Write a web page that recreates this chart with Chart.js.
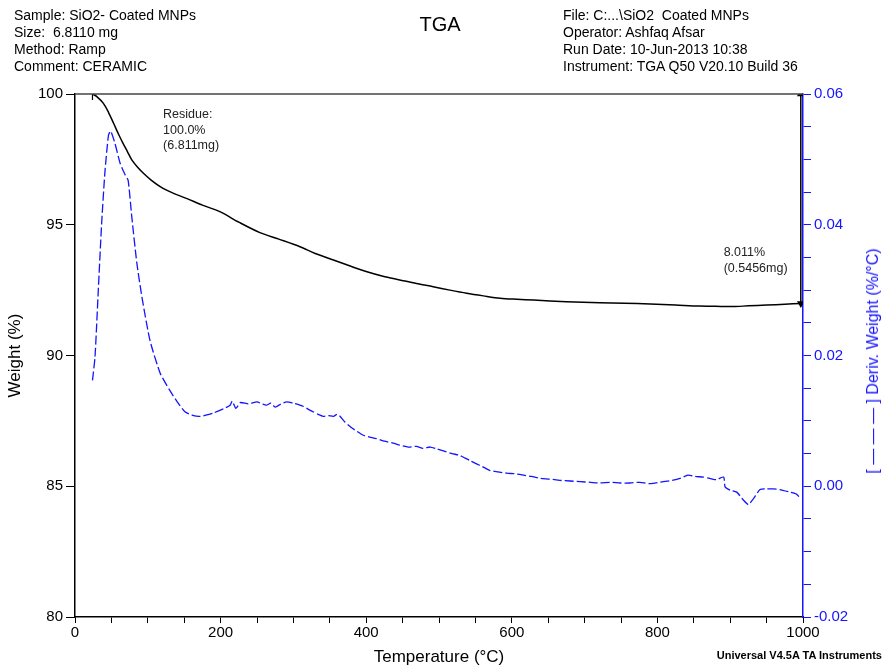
<!DOCTYPE html>
<html>
<head>
<meta charset="utf-8">
<script src="https://cdn.jsdelivr.net/npm/chart.js@4/dist/chart.umd.min.js"></script>
<style>
body { margin: 0; background: #fff; font-family: "Liberation Sans", Arial, sans-serif; }
#wrap { position: relative; width: 886px; height: 668px; }
.hdr { position: absolute; font-size: 14px; line-height: 17px; color: #000; white-space: pre; }
#title { position: absolute; left: 440px; top: 13px; transform: translateX(-50%); font-size: 20px; }
#footer { position: absolute; right: 4px; top: 649px; font-size: 11px; font-weight: bold; }
#rtitle { position: absolute; left: 873px; top: 361px; transform: translate(-50%, -50%) rotate(-90deg);
  font-size: 16px; color: rgb(20,20,255); white-space: pre; }
</style>
</head>
<body>
<div id="wrap">
  <canvas id="tga" width="886" height="668"></canvas>
  <div class="hdr" style="left:14px;top:7px">Sample: SiO2- Coated MNPs
Size:  6.8110 mg
Method: Ramp
Comment: CERAMIC</div>
  <div id="title">TGA</div>
  <div class="hdr" style="left:563px;top:7px">File: C:...\SiO2  Coated MNPs
Operator: Ashfaq Afsar
Run Date: 10-Jun-2013 10:38
Instrument: TGA Q50 V20.10 Build 36</div>
  <div id="rtitle">[ — — — ] Deriv. Weight (%/°C)</div>
  <div id="footer">Universal V4.5A TA Instruments</div>
</div>
<script>
// weight curve (%)
var weightTemps = [24, 30, 39, 46, 53, 60, 66, 72, 78, 86, 94, 105, 121, 137, 153, 175, 199, 225, 254, 280, 309, 330, 355, 378, 401, 423, 446, 469, 492, 515, 538, 561, 584, 607, 630, 675, 721, 755, 790, 825, 858, 880, 904, 925, 950, 975, 997];
var weightValues = [100.0, 99.9, 99.64, 99.3, 98.88, 98.45, 98.11, 97.8, 97.48, 97.2, 96.97, 96.7, 96.39, 96.18, 96.01, 95.75, 95.5, 95.1, 94.7, 94.45, 94.16, 93.9, 93.65, 93.42, 93.2, 93.03, 92.89, 92.75, 92.63, 92.5, 92.38, 92.28, 92.19, 92.15, 92.12, 92.06, 92.02, 92.0, 91.97, 91.93, 91.89, 91.88, 91.87, 91.9, 91.93, 91.96, 91.99];

// derivative weight (%/°C)
var derivTemps = [24, 27.5, 32, 36.6, 41, 46, 49, 55, 62, 69, 73, 78, 85, 92, 103, 117, 130, 140, 151, 163, 172, 181, 190, 199, 207, 213, 216, 221, 227, 238, 250, 257, 263, 269, 275, 283, 291, 300, 307, 314, 320, 327, 334, 341, 348, 355, 360, 364, 371, 382, 396, 414, 425, 437, 446, 458, 469, 478, 488, 497, 506, 518, 529, 536, 543, 550, 556, 563, 570, 581, 593, 605, 616, 627, 639, 652, 666, 680, 694, 708, 721, 735, 749, 762, 776, 790, 808, 820, 831, 842, 852, 863, 872, 881, 891, 893, 900, 909, 918, 925, 932, 941, 950, 959, 968, 982, 991, 997];
var derivValues = [0.0162, 0.0198, 0.0300, 0.0402, 0.0479, 0.0537, 0.0543, 0.0524, 0.0494, 0.0476, 0.0468, 0.0412, 0.0341, 0.0289, 0.0223, 0.0173, 0.0147, 0.0130, 0.0114, 0.0108, 0.0107, 0.0109, 0.0112, 0.0116, 0.0120, 0.0124, 0.0130, 0.0119, 0.0128, 0.0126, 0.0129, 0.0126, 0.0124, 0.0127, 0.0121, 0.0126, 0.0129, 0.0127, 0.0125, 0.0122, 0.0118, 0.0114, 0.0110, 0.0107, 0.0108, 0.0107, 0.0110, 0.0107, 0.0098, 0.0088, 0.0078, 0.0073, 0.0069, 0.0066, 0.0063, 0.0060, 0.0061, 0.0058, 0.0060, 0.0057, 0.0054, 0.0050, 0.0047, 0.0043, 0.0039, 0.0035, 0.0032, 0.0028, 0.0024, 0.0022, 0.0020, 0.0019, 0.0017, 0.0015, 0.0012, 0.0011, 0.0009, 0.0008, 0.0007, 0.0006, 0.0005, 0.0006, 0.0005, 0.0005, 0.0006, 0.0004, 0.0007, 0.0009, 0.0012, 0.0017, 0.0015, 0.0014, 0.0012, 0.0010, 0.0014, -0.0001, -0.0006, -0.0009, -0.0021, -0.0028, -0.0019, -0.0005, -0.0004, -0.0004, -0.0005, -0.0009, -0.0012, -0.0019];

// residue step marker
var stepTemp = 997;
var stepFrom = 100;
var stepTo = 91.99;

var notes = [
  { t: 121, w: 99.2, lines: ["Residue:", "100.0%", "(6.811mg)"] },
  { t: 891, w: 93.92, lines: ["8.011%", "(0.5456mg)"] }
];

var blue = "rgb(20,20,255)";

function pts(xs, ys) {
  var out = [];
  for (var i = 0; i < xs.length; i++) out.push({ x: xs[i], y: ys[i] });
  return out;
}

var annot = {
  id: "annot",
  afterDatasetsDraw: function(chart) {
    var ctx = chart.ctx, a = chart.chartArea, s = chart.scales;
    ctx.save();
    ctx.strokeStyle = "#444";
    ctx.lineWidth = 1.5;
    ctx.beginPath();
    ctx.moveTo(a.left, a.top);
    ctx.lineTo(a.right, a.top);
    ctx.stroke();
    ctx.fillStyle = "#222";
    ctx.font = '12.5px "Liberation Sans", Arial';
    ctx.textBaseline = "middle";
    notes.forEach(function(n) {
      var x = s.x.getPixelForValue(n.t);
      var y = s.y.getPixelForValue(n.w);
      n.lines.forEach(function(line, i) { ctx.fillText(line, x, y + i * 15.5); });
    });
    ctx.restore();
  }
};

Chart.defaults.font.family = '"Liberation Sans", Arial, sans-serif';

new Chart("tga", {
  type: "line",
  data: {
    datasets: [{
      label: "Weight",
      data: pts(weightTemps, weightValues),
      yAxisID: "y",
      borderColor: "#000",
      borderWidth: 1.5,
      tension: 0.3,
      pointStyle: "line",
      pointRotation: 90,
      pointRadius: function(c) { return c.dataIndex === 0 ? 6 : 0; },
      pointBorderColor: "#000",
      pointBorderWidth: 1.2
    }, {
      label: "Step",
      data: [{ x: stepTemp, y: stepFrom }, { x: stepTemp, y: stepTo }],
      yAxisID: "y",
      borderColor: "#000",
      borderWidth: 1.5,
      pointStyle: "triangle",
      pointRotation: [0, 180],
      pointRadius: 3,
      pointBackgroundColor: "#000",
      pointBorderColor: "#000"
    }, {
      label: "Deriv. Weight",
      data: pts(derivTemps, derivValues),
      yAxisID: "y1",
      borderColor: blue,
      borderWidth: 1.3,
      borderDash: [9, 3],
      tension: 0.2,
      pointRadius: 0
    }]
  },
  options: {
    responsive: false,
    animation: false,
    layout: { padding: { left: 0, right: 0, top: 94, bottom: 0 } },
    plugins: { legend: { display: false }, tooltip: { enabled: false } },
    scales: {
      x: {
        type: "linear",
        min: 0, max: 1000,
        afterFit: function(sc) { sc.height = 51; },
        border: { color: "#000", width: 1.5 },
        grid: { drawOnChartArea: false, drawTicks: true, tickLength: 6, color: "#000" },
        ticks: {
          stepSize: 50, color: "#000", font: { size: 15 }, padding: 1, maxRotation: 0, autoSkip: false,
          callback: function(v) { return v % 200 === 0 ? v : ""; }
        },
        title: { display: true, text: "Temperature (°C)", color: "#000", font: { size: 17 }, padding: { top: 5, bottom: 0 } }
      },
      y: {
        position: "left",
        min: 80, max: 100,
        afterFit: function(sc) { sc.width = 75; },
        border: { color: "#000", width: 1.5 },
        grid: { drawOnChartArea: false, drawTicks: true, tickLength: 9, color: "#000" },
        ticks: { stepSize: 5, color: "#000", font: { size: 15 }, padding: 3 },
        title: { display: true, text: "Weight (%)", color: "#000", font: { size: 17 }, padding: { top: 5, bottom: 0 } }
      },
      y1: {
        position: "right",
        min: -0.02, max: 0.06,
        afterFit: function(sc) { sc.width = 83; },
        border: { color: blue, width: 1.5 },
        grid: { drawOnChartArea: false, drawTicks: true, tickLength: 8, color: blue },
        ticks: {
          stepSize: 0.005, color: blue, font: { size: 15 }, padding: 3, autoSkip: false,
          callback: function(v) {
            var k = v / 0.02;
            return Math.abs(k - Math.round(k)) < 1e-6 ? v.toFixed(2) : "";
          }
        }
      }
    }
  },
  plugins: [annot]
});
</script>
</body>
</html>
